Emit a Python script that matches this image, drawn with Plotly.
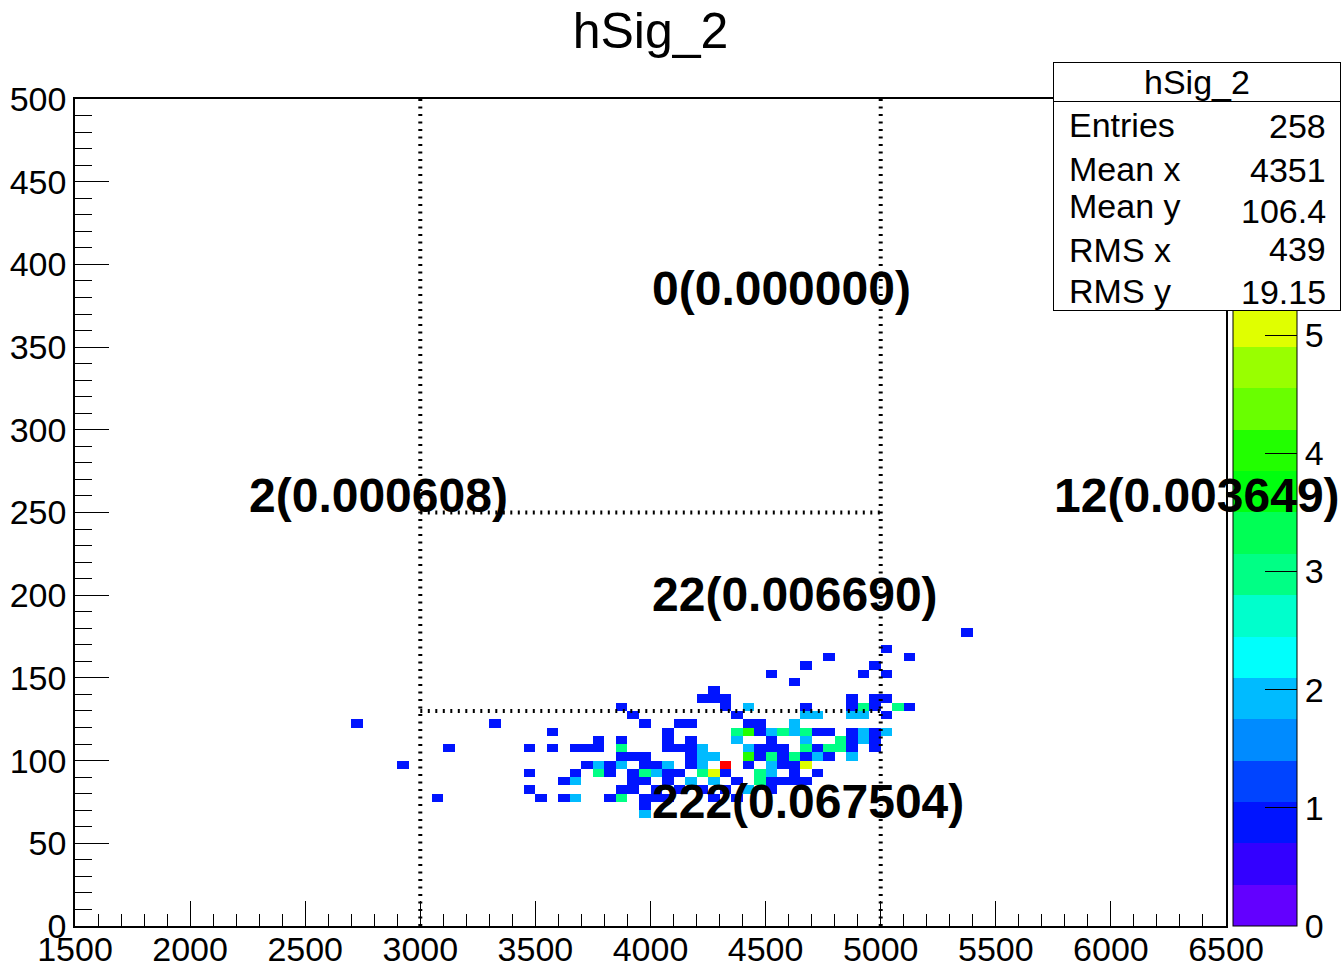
import colorsys
import numpy as np
import plotly.graph_objects as go

FONT = "Liberation Sans"

# ---------------------------------------------------------------------------
# hSig_2 : 2D histogram, 100 x 100 bins, x in [1500, 6500], y in [0, 500]
# filled bins given as (bin-centre x, bin-centre y, content)
# ---------------------------------------------------------------------------
cell_x = [
    5375,                                                   # y 177.5
    5025,                                                   # y 167.5
    4775, 5125,                                             # y 162.5
    4675, 4975,                                             # y 157.5
    4525, 4925, 5025,                                       # y 152.5
    4625,                                                   # y 147.5
    4275,                                                   # y 142.5
    4225, 4275, 4325, 4875, 4975, 5025,                     # y 137.5
    3875, 4325, 4425, 4675, 4875, 4925, 4975, 5075, 5125,   # y 132.5
    3925, 4375, 4675, 4725, 4875, 4925, 5025,               # y 127.5
    2725, 3325, 3975, 4125, 4175, 4425, 4475, 4625,         # y 122.5
    3575, 4075, 4375, 4425, 4475, 4525, 4575, 4625, 4675, 4725, 4775, 4875,
    4925, 4975, 5025,                                       # y 117.5
    3775, 3875, 4075, 4175, 4375, 4525, 4675, 4825, 4875, 4925, 4975,  # y 112.5
    3125, 3475, 3575, 3675, 3725, 3775, 3875, 4075, 4125, 4175, 4225, 4425,
    4475, 4525, 4575, 4675, 4725, 4775, 4825, 4875, 4975,   # y 107.5
    3875, 3925, 3975, 4175, 4225, 4275, 4425, 4475, 4525, 4575, 4625, 4675,
    4725, 4775, 4875,                                       # y 102.5
    2925, 3725, 3775, 3825, 3875, 3975, 4025, 4075, 4175, 4225, 4325, 4425,
    4525, 4575, 4625, 4675,                                 # y 97.5
    3475, 3675, 3775, 3825, 3925, 3975, 4025, 4075, 4125, 4225, 4275, 4325,
    4475, 4525, 4625, 4725,                                 # y 92.5
    3625, 3675, 3925, 3975, 4075, 4175, 4275, 4375, 4475, 4525, 4575, 4625,
    4675,                                                   # y 87.5
    3475, 3875, 3925, 4025, 4125, 4225, 4325, 4425, 4525,   # y 82.5
    3075, 3525, 3625, 3675, 3825, 3875, 3975, 4025, 4075, 4275, 4375,  # y 77.5
    3975,                                                   # y 72.5
    3975,                                                   # y 67.5
]
cell_y = (
    [177.5] * 1 + [167.5] * 1 + [162.5] * 2 + [157.5] * 2 + [152.5] * 3
    + [147.5] * 1 + [142.5] * 1 + [137.5] * 6 + [132.5] * 9 + [127.5] * 7
    + [122.5] * 8 + [117.5] * 15 + [112.5] * 11 + [107.5] * 21 + [102.5] * 15
    + [97.5] * 16 + [92.5] * 16 + [87.5] * 13 + [82.5] * 9 + [77.5] * 11
    + [72.5] * 1 + [67.5] * 1
)
cell_n = [
    1,
    1,
    1, 1,
    1, 1,
    1, 1, 1,
    1,
    1,
    1, 1, 1, 1, 1, 1,
    1, 1, 2, 1, 1, 3, 1, 3, 1,
    1, 1, 2, 2, 2, 2, 1,
    1, 1, 1, 1, 1, 1, 1, 2,
    1, 1, 3, 4, 1, 2, 3, 2, 3, 1, 1, 1, 2, 1, 2,
    1, 1, 1, 1, 2, 1, 2, 3, 1, 2, 1,
    1, 1, 1, 1, 1, 1, 3, 1, 1, 1, 2, 2, 1, 1, 1, 3, 1, 3, 3, 1, 1,
    1, 1, 1, 1, 2, 2, 4, 1, 3, 1, 3, 1, 2, 1, 2,
    1, 1, 2, 1, 2, 1, 1, 2, 1, 2, 7, 1, 2, 1, 1, 5,
    1, 1, 3, 1, 1, 3, 2, 1, 1, 3, 5, 1, 3, 2, 1, 1,
    1, 2, 1, 1, 1, 2, 2, 1, 3, 1, 1, 1, 1,
    1, 1, 1, 1, 1, 1, 1, 2, 1,
    1, 1, 1, 2, 1, 3, 1, 1, 1, 1, 1,
    1,
    2,
]

# selection cuts drawn as dotted lines
cut_x = [3000, 5000]
cut_y = [130, 250]

# normalisation used for the region fractions
n_generated = 3288.7

# statistics box contents
stat_names = ["Entries", "Mean x", "Mean y", "RMS x", "RMS y"]
stat_values = ["258", "4351", "106.4", "439", "19.15"]

# ---------------------------------------------------------------------------
X_MIN, X_MAX, NX = 1500.0, 6500.0, 100
Y_MIN, Y_MAX, NY = 0.0, 500.0, 100
dx = (X_MAX - X_MIN) / NX
dy = (Y_MAX - Y_MIN) / NY
x_centres = X_MIN + dx * (np.arange(NX) + 0.5)
y_centres = Y_MIN + dy * (np.arange(NY) + 0.5)

cx = np.asarray(cell_x, dtype=float)
cy = np.asarray(cell_y, dtype=float)
cn = np.asarray(cell_n, dtype=float)

z = np.full((NY, NX), np.nan)
for xv, yv, nv in zip(cx, cy, cn):
    i = int((xv - X_MIN) // dx)
    j = int((yv - Y_MIN) // dy)
    z[j, i] = nv if np.isnan(z[j, i]) else z[j, i] + nv

z_max = float(np.nanmax(z))

# ROOT "pretty palette" with 20 colour levels
N_LEVELS, N_COLOURS = 20, 50


def level_colour(level):
    idx = int((level + 0.99) * N_COLOURS / N_LEVELS)
    hue = 280.0 - (idx + 1) * 280.0 / N_COLOURS
    r, g, b = colorsys.hls_to_rgb(hue / 360.0, 0.5, 1.0)
    return f"rgb({round(r * 255)},{round(g * 255)},{round(b * 255)})"


colorscale = []
for k in range(N_LEVELS):
    c = level_colour(k)
    colorscale.append([k / N_LEVELS, c])
    colorscale.append([(k + 1) / N_LEVELS, c])

# ---------------------------------------------------------------------------
# page geometry (pixels)
W, H = 1344, 966
ML, MR, MT, MB = 75, 118, 99, 40
PW, PH = W - ML - MR, H - MT - MB


def paper_x(p):
    return (p - ML) / PW


def paper_y(p):
    return (H - MB - p) / PH


fig = go.Figure()
fig.add_trace(go.Heatmap(
    x=x_centres, y=y_centres, z=z,
    zmin=0, zmax=z_max,
    colorscale=colorscale,
    hoverinfo="skip",
    colorbar=dict(
        x=1233 / W, xref="container", xanchor="left", xpad=0,
        y=0.5, yanchor="middle", ypad=0,
        len=1, lenmode="fraction",
        thickness=64, thicknessmode="pixels",
        outlinewidth=1, outlinecolor="black",
        ticks="inside", ticklen=32, tickwidth=1, tickcolor="black",
        tickvals=list(range(0, int(z_max) + 1)),
        tickfont=dict(family=FONT, size=34, color="black"),
    ),
))

# dotted cut lines
dot = dict(color="black", width=4, dash="2px,5.5px")
shapes = []
for xv in cut_x:
    shapes.append(dict(type="line", xref="x", yref="y", x0=xv, x1=xv,
                       y0=Y_MIN, y1=Y_MAX, line=dot, layer="above"))
for yv in cut_y:
    shapes.append(dict(type="line", xref="x", yref="y", x0=cut_x[0], x1=cut_x[1],
                       y0=yv, y1=yv, line=dot, layer="above"))

annotations = []

# region yields
in_x = (cx >= cut_x[0]) & (cx < cut_x[1])
regions = [
    (in_x & (cy >= cut_y[1]), 4000, 375),
    (in_x & (cy >= cut_y[0]) & (cy < cut_y[1]), 4000, 190),
    (in_x & (cy < cut_y[0]), 4000, 65),
    (cx < cut_x[0], 2250, 250),
    (cx >= cut_x[1], 5750, 250),
]
for mask, xv, yv in regions:
    count = int(cn[mask].sum())
    annotations.append(dict(
        x=xv, y=yv, xref="x", yref="y", xanchor="left", yanchor="middle",
        yshift=17, showarrow=False, borderpad=0,
        text=f"<b>{count}({count / n_generated:.6f})</b>",
        font=dict(family=FONT, size=48, color="black"),
    ))

# statistics box
box_l, box_r = 1053, 1341
head_t, head_b, body_b = 62, 102, 311
annotations.append(dict(
    x=paper_x(box_l), y=paper_y(head_b - 1), xref="paper", yref="paper",
    xanchor="left", yanchor="top", showarrow=False, text=" ",
    width=box_r - box_l - 2, height=body_b - head_b - 1,
    bgcolor="white", bordercolor="black", borderwidth=1, borderpad=0,
))
annotations.append(dict(
    x=paper_x(box_l), y=paper_y(head_t), xref="paper", yref="paper",
    xanchor="left", yanchor="top", showarrow=False, text=" ",
    width=box_r - box_l - 2, height=head_b - head_t - 2,
    bgcolor="white", bordercolor="black", borderwidth=1, borderpad=0,
))
annotations.append(dict(
    x=paper_x((box_l + box_r) / 2), y=paper_y(82), xref="paper", yref="paper",
    xanchor="center", yanchor="middle", showarrow=False, borderpad=0,
    text="hSig_2", font=dict(family=FONT, size=34, color="black"),
))
name_y = [125, 169, 206, 250, 291]
value_y = [126, 170, 211, 249, 292]
entries = int(cn.sum())
stat_values[0] = str(entries)
for name, value, yn, yv in zip(stat_names, stat_values, name_y, value_y):
    annotations.append(dict(
        x=paper_x(1068), y=paper_y(yn), xref="paper", yref="paper",
        xanchor="left", yanchor="middle", showarrow=False, borderpad=0,
        text=name, font=dict(family=FONT, size=34, color="black"),
    ))
    annotations.append(dict(
        x=paper_x(1327), y=paper_y(yv), xref="paper", yref="paper",
        xanchor="right", yanchor="middle", showarrow=False, borderpad=0,
        text=value, font=dict(family=FONT, size=34, color="black"),
    ))

axis_font = dict(family=FONT, size=34, color="black")
fig.update_layout(
    template="none",
    width=W, height=H, autosize=False,
    margin=dict(l=ML, r=MR, t=MT, b=MB, pad=0),
    paper_bgcolor="white", plot_bgcolor="white",
    showlegend=False,
    title=dict(text="hSig_2", x=0.5, xref="paper", xanchor="center",
               y=1 - 30 / H, yref="container", yanchor="middle",
               font=dict(family=FONT, size=50, color="black")),
    xaxis=dict(
        range=[X_MIN, X_MAX], tickmode="linear", tick0=1500, dtick=500,
        ticks="inside", ticklen=25, tickwidth=1, tickcolor="black",
        minor=dict(ticks="inside", ticklen=12, tickwidth=1, tickcolor="black",
                   tick0=1500, dtick=100),
        showline=True, mirror=True, linecolor="black", linewidth=1.5,
        showgrid=False, zeroline=False, tickfont=axis_font, automargin=False,
        ticklabelstandoff=-8,
    ),
    yaxis=dict(
        range=[Y_MIN, Y_MAX], tickmode="linear", tick0=0, dtick=50,
        ticks="inside", ticklen=34, tickwidth=1, tickcolor="black",
        minor=dict(ticks="inside", ticklen=17, tickwidth=1, tickcolor="black",
                   tick0=0, dtick=10),
        showline=True, mirror=True, linecolor="black", linewidth=1.5,
        showgrid=False, zeroline=False, tickfont=axis_font, automargin=False,
    ),
    shapes=shapes,
    annotations=annotations,
)

fig.write_html("out.html")
